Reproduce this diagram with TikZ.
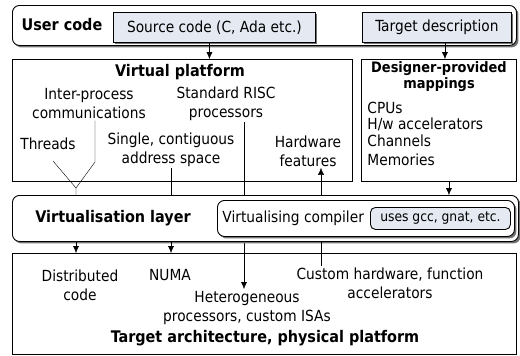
\documentclass[tikz,border=0pt]{standalone}
\usepackage{fontspec}
\setmainfont{DejaVu Sans Condensed}
\usetikzlibrary{arrows.meta,shadows,backgrounds}
\definecolor{boxblue}{RGB}{228,233,242}

\begin{document}
\begin{tikzpicture}[x=1pt, y=-1pt, line width=0.9pt,
		every node/.style={font=\fontsize{15.3}{19}\selectfont},
		box/.style={draw, anchor=north west, inner sep=0pt},
		roundbox/.style={box, rounded corners=7pt},
		shade/.style={drop shadow={shadow xshift=2pt, shadow yshift=-2pt, fill=black!55, opacity=1}},
		lbl/.style={align=center, inner sep=1pt},
		title/.style={lbl, font=\fontsize{16}{17}\selectfont\bfseries},
		arr/.style={-{Latex[length=7pt, width=6pt]}}]
		\useasboundingbox (0,0) rectangle (520,356);
		\node[roundbox, shade, fill=white, minimum width=504pt, minimum height=40pt] (user) at (12,5) {};
		\node[box, shade, fill=boxblue, minimum width=202pt, minimum height=30pt] (src) at (113,12) {Source code (C, Ada etc.)};
		\node[box, shade, fill=boxblue, minimum width=149pt, minimum height=30pt] (tgt) at (362,12) {Target description};
		\node[title] (usercode) at (62,25) {User code};
		\node[box, minimum width=340pt, minimum height=122pt] (vp) at (12,59) {};
		\node[box, minimum width=155pt, minimum height=122pt] (dp) at (361,59) {};
		\node[roundbox, shade, fill=white, minimum width=506pt, minimum height=46pt] (layer) at (12,195) {};
		\node[roundbox, shade, fill=white, minimum width=297pt, minimum height=36pt] (comp) at (217,200) {};
		\node[roundbox, rounded corners=5pt, fill=boxblue, minimum width=140pt, minimum height=22pt,
			font=\fontsize{13.7}{16}\selectfont] (uses) at (370,207) {uses gcc, gnat, etc.};
		\node[box, minimum width=504pt, minimum height=101pt] (target) at (12,253) {};

		\node[title] (vptitle) at (180,72) {Virtual platform};
		\node[lbl] (ipc) at (89,104) {Inter-process\\communications};
		\node[lbl] (risc) at (226,104) {Standard RISC\\processors};
		\node[lbl] (threads) at (48,144) {Threads};
		\node[lbl] (addr) at (171,150) {Single, contiguous\\address space};
		\node[lbl] (hw) at (308,151) {Hardware\\features};
		\node[title, font=\fontsize{14.4}{16}\selectfont\bfseries] (dptitle) at (439,77) {Designer-provided\\mappings};
		\node[lbl, anchor=west] (cpus) at (366,108) {CPUs};
		\node[lbl, anchor=west] (accel) at (366,124) {H/w accelerators};
		\node[lbl, anchor=west] (chan) at (366,141) {Channels};
		\node[lbl, anchor=west] (mem) at (366,160) {Memories};
		\node[title] (layertitle) at (113,218) {Virtualisation layer};
		\node[lbl, anchor=west] (comptitle) at (221,218) {Virtualising compiler};
		\node[lbl] (dist) at (80,285) {Distributed\\code};
		\node[lbl] (numa) at (170,275) {NUMA};
		\node[lbl] (hetero) at (247,308) {Heterogeneous\\processors, custom ISAs};
		\node[lbl] (custom) at (390,283) {Custom hardware, function\\accelerators};
		\node[title] (targettitle) at (265,338) {Target architecture, physical platform};

		\coordinate (vjoin) at (76,188);
		\coordinate (tstub) at (53,161);
		\coordinate (cstub) at (95,162);
		\coordinate (rtip) at (244,289);
		\coordinate (hwx) at (321,195);
		\begin{pgfonlayer}{background}
			\draw[arr] (risc.south -| rtip) -- (rtip);
		\end{pgfonlayer}
		\draw[arr] ([xshift=-5pt]src.south) -- ([xshift=-5pt]src.south |- vp.north);
		\draw[arr] ([xshift=8pt]tgt.south) -- ([xshift=8pt]tgt.south |- dp.north);
		\draw (tstub) -- (vjoin) -- (vjoin |- layer.north);
		\draw (ipc.south -| cstub) -- (cstub) -- (vjoin);
		\draw (addr.south) -- (addr.south |- layer.north);
		\draw[arr] (hwx |- layer.north) -- (hwx |- hw.south);
		\draw[arr] ([xshift=10pt]dp.south) -- ([xshift=10pt]dp.south |- layer.north);
		\foreach \x in {vjoin, addr.south}
			\draw[arr] (\x |- layer.south) -- (\x |- target.north);
		\draw (hwx |- layer.south) -- (hwx |- custom.north);
	\end{tikzpicture}
\end{document}
